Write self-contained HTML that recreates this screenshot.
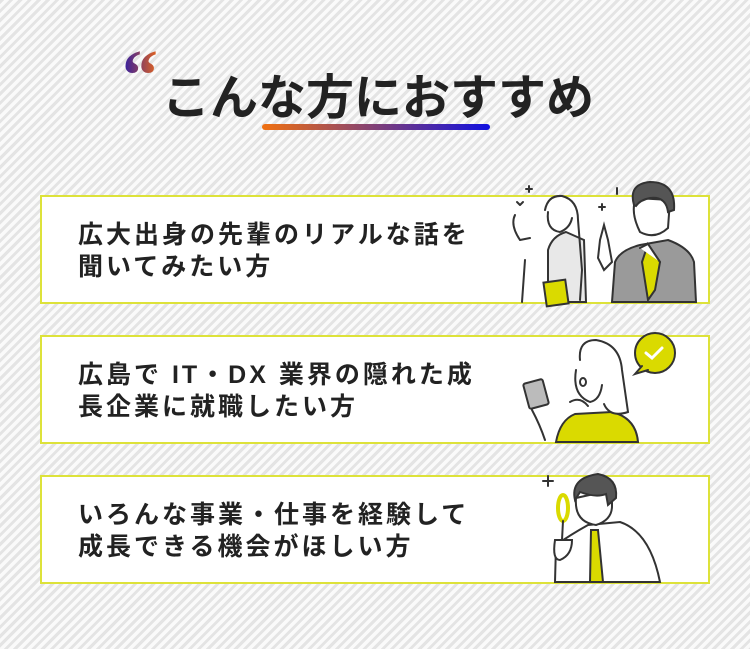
<!DOCTYPE html>
<html><head><meta charset="utf-8"><style>
*{margin:0;padding:0;box-sizing:border-box}
body{width:750px;height:649px;overflow:hidden;position:relative;font-family:"Liberation Sans","Noto Sans CJK JP",sans-serif;
background:repeating-linear-gradient(135deg,#e4e4e4 0 3px,#fafafa 3px 6.5px);}
.title{position:absolute;left:162px;top:58px;font-size:48px;font-weight:bold;color:#222;letter-spacing:0px;white-space:nowrap}
.q{position:absolute;left:122px;top:34px;font-size:72px;font-weight:bold;font-family:"Liberation Serif",serif;
background:linear-gradient(90deg,#2a1aa8,#e8661a);-webkit-background-clip:text;background-clip:text;color:transparent}
.ul{position:absolute;left:262px;top:124px;width:228px;height:6px;border-radius:3px;background:linear-gradient(90deg,#f07010,#1010e0)}
.box{position:absolute;left:40px;width:670px;height:109px;background:#fff;border:2px solid #dde23a}
.t{position:absolute;left:36px;font-size:25px;font-weight:bold;color:#222;line-height:32px;white-space:nowrap;letter-spacing:3px}
svg{position:absolute}
</style></head><body>
<div class="q">“</div>
<div class="title">こんな方におすすめ</div>
<div class="ul"></div>

<div class="box" style="top:195px"><div class="t" style="top:22px">広大出身の先輩のリアルな話を<br>聞いてみたい方</div></div>
<div class="box" style="top:335px"><div class="t" style="top:22px">広島で IT・DX 業界の隠れた成<br>長企業に就職したい方</div></div>
<div class="box" style="top:475px"><div class="t" style="top:22px">いろんな事業・仕事を経験して<br>成長できる機会がほしい方</div></div>

<svg width="750" height="649" style="left:0;top:0" fill="none" stroke="#333" stroke-width="2" stroke-linecap="round">
<path d="M548 302 L548 250 Q552 236 566 232 L584 240 L586 302 Z" fill="#e8e8e8"/>
<path d="M545 210 Q548 195 562 196 Q578 200 578 220 L582 270 L580 300" />
<path d="M548 212 Q546 230 560 232 Q570 228 572 218" fill="#fff"/>
<rect x="545" y="281" width="22" height="24" fill="#dada00" transform="rotate(-8 556 293)"/>
<path d="M520 240 Q510 225 515 215 M520 240 L530 238 M525 260 L522 302"/>
<path d="M612 302 L615 262 Q620 250 640 245 L668 240 Q690 248 694 262 L696 302 Z" fill="#9a9a9a"/>
<path d="M648 244 L660 262 L655 290 L648 300 L642 262 Z" fill="#dada00"/>
<path d="M640 248 L648 244 L660 262" fill="#fff"/>
<path d="M636 198 Q630 212 640 232 Q655 240 668 228 L670 200 Z" fill="#fff"/>
<path d="M634 205 Q628 184 650 182 Q676 182 674 210 L668 212 Q666 196 650 198 Q640 200 636 206 Z" fill="#555"/>
<path d="M600 240 L604 225 L608 240 L612 262 L604 270 L598 258 Z" fill="#fff"/>
<path d="M529 186v6M526 189h6M602 204v6M599 207h6M520 205l-3 -3M520 205l3 -3M617 188l0 6"/>
<circle cx="655" cy="353" r="20" fill="#dada00"/>
<path d="M642 366 L635 374 L648 370" fill="#dada00"/>
<path d="M646 353 L652 358 L662 348" stroke="#fff" stroke-width="3"/>
<rect x="526" y="381" width="20" height="26" rx="2" fill="#bbb" transform="rotate(-15 536 394)"/>
<path d="M532 410 Q540 425 545 440 M556 442 Q560 420 575 414 L612 412 Q636 418 638 442 Z" fill="#dada00"/>
<path d="M580 360 Q578 340 596 340 Q620 344 622 370 L628 412 Q610 418 604 404" fill="#fff"/>
<path d="M576 370 Q572 395 590 402 Q600 400 602 385" fill="#fff"/>
<ellipse cx="583" cy="382" rx="3" ry="4"/>
<path d="M570 402 Q580 396 588 406"/>
<path d="M548 476v10M543 481h10"/>
<path d="M555 582 L556 545 Q570 535 588 525 L620 522 Q650 532 660 582 Z" fill="#fff"/>
<path d="M591 530 L598 530 L603 582 L590 582 Z" fill="#dada00"/>
<path d="M576 498 Q574 522 596 525 Q612 520 612 506 L612 490 Z" fill="#fff"/>
<path d="M575 500 Q570 478 598 474 Q618 478 616 498 L608 505 L606 494 Q596 498 580 492 Z" fill="#555"/>
<ellipse cx="563" cy="508" rx="5" ry="13" fill="#fff" stroke="#dada00" stroke-width="4"/>
<path d="M563 521 L562 540 M555 540 Q552 560 560 560 Q572 555 572 540 Z" fill="#fff"/>
</svg>
</body></html>
